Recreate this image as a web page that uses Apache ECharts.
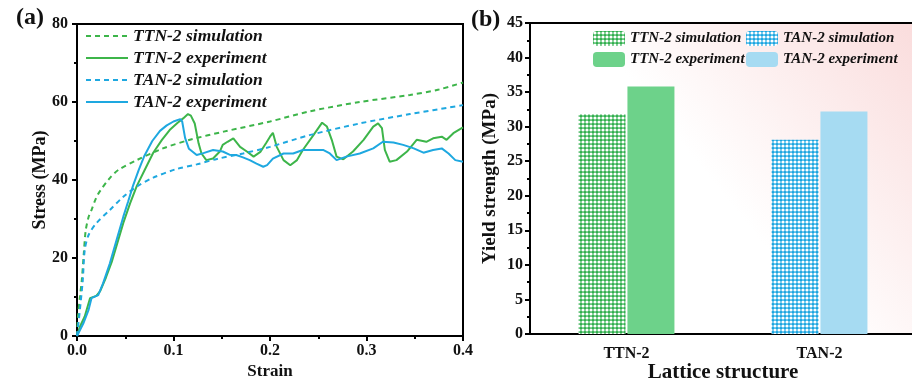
<!DOCTYPE html>
<html>
<head>
<meta charset="utf-8">
<script src="https://cdn.jsdelivr.net/npm/echarts@6/dist/echarts.min.js"></script>
<style>
  html, body { margin: 0; padding: 0; background: #fff; }
  #a { position: absolute; left: 0; top: 0; width: 480px; height: 381px; }
  #b { position: absolute; left: 465px; top: 0; width: 447px; height: 381px; }
</style>
</head>
<body>
<div id="a"></div>
<div id="b"></div>
<script>
// ---- (a) stress-strain curves ----
var ttnSimStrain = [0, 0.001, 0.003, 0.005, 0.007, 0.009, 0.012, 0.015, 0.02, 0.024, 0.034, 0.043, 0.062, 0.089, 0.117, 0.152, 0.2, 0.241, 0.293, 0.345, 0.375, 0.4];
var ttnSimStress = [0, 5, 10, 14.4, 21, 27, 30.5, 32.3, 35.5, 37.2, 40.5, 42.6, 45.1, 48.1, 50.3, 52.4, 55, 57.6, 60, 61.8, 63.2, 65];

var tanSimStrain = [0, 0.003, 0.006, 0.008, 0.012, 0.02, 0.034, 0.048, 0.062, 0.079, 0.103, 0.124, 0.145, 0.172, 0.2, 0.241, 0.293, 0.345, 0.4];
var tanSimStress = [0, 6.7, 14.4, 22, 25.9, 28.9, 32.3, 35.7, 38.3, 40.6, 42.8, 44, 45.4, 46.8, 48.5, 51.5, 54.5, 56.9, 59.2];

var ttnExpStrain = [0, 0.003, 0.008, 0.0135, 0.02, 0.024, 0.03, 0.036, 0.042, 0.048, 0.055, 0.062, 0.07, 0.079, 0.088, 0.096, 0.104, 0.11, 0.115, 0.118, 0.122, 0.126, 0.129, 0.134, 0.141, 0.148, 0.151, 0.156, 0.162, 0.169, 0.176, 0.183, 0.19, 0.196, 0.2, 0.203, 0.207, 0.214, 0.221, 0.228, 0.234, 0.245, 0.254, 0.259, 0.264, 0.269, 0.276, 0.286, 0.297, 0.307, 0.312, 0.316, 0.319, 0.324, 0.331, 0.342, 0.352, 0.362, 0.369, 0.378, 0.383, 0.39, 0.4];
var ttnExpStress = [0, 2.4, 5, 9.7, 10.3, 11.5, 15, 19, 24, 29, 34, 38.5, 42.5, 47, 50.3, 52.8, 54.6, 55.8, 56.9, 56.5, 54.5, 49.4, 46.8, 45.1, 45.5, 47.3, 49, 49.8, 50.7, 48.5, 47.3, 46, 47.2, 49.5, 51.1, 52.1, 48.5, 45.1, 43.8, 45.1, 47.7, 51.5, 54.7, 53.7, 50.3, 46, 45.3, 47.3, 50.3, 53.7, 54.5, 53.3, 47.7, 44.7, 45.1, 47.3, 50.3, 49.8, 50.7, 51.1, 50.3, 52, 53.5];

var tanExpStrain = [0, 0.0065, 0.012, 0.015, 0.022, 0.027, 0.034, 0.041, 0.048, 0.053, 0.058, 0.064, 0.07, 0.078, 0.086, 0.093, 0.1, 0.107, 0.109, 0.112, 0.116, 0.124, 0.131, 0.141, 0.151, 0.158, 0.165, 0.172, 0.179, 0.186, 0.193, 0.197, 0.203, 0.214, 0.224, 0.234, 0.245, 0.255, 0.262, 0.269, 0.279, 0.293, 0.307, 0.317, 0.328, 0.338, 0.349, 0.359, 0.369, 0.378, 0.385, 0.392, 0.4];
var tanExpStress = [0, 3.2, 6.7, 9.7, 10.5, 13.5, 18.6, 24.6, 30.6, 34.5, 38.5, 42.6, 46.3, 50, 52.6, 54, 55, 55.6, 55, 50.8, 48, 46.4, 46.9, 47.7, 47.3, 46.5, 46.4, 45.8, 45.1, 44.2, 43.4, 43.8, 45.5, 46.8, 46.8, 47.7, 47.7, 47.7, 46.8, 45.1, 46, 46.8, 48.1, 49.8, 49.6, 49, 48.1, 47, 47.7, 48.1, 46.8, 45.1, 44.7];

// ---- (b) yield strength ----
var structures = ['TTN-2', 'TAN-2'];
var ttnSim = [31.8, '-'];
var ttnExp = [35.8, '-'];
var tanSim = ['-', 28.1];
var tanExp = ['-', 32.2];

var serif = '"Liberation Serif", "Times New Roman", serif';
var GREEN = '#3db54a';
var BLUE = '#1ea8e0';

function pairs(xs, ys) {
    return xs.map(function (x, i) { return [x, ys[i]]; });
}

// 点阵填充
function dotPattern(base) {
    var c = document.createElement('canvas');
    c.width = 4; c.height = 4;
    var ctx = c.getContext('2d');
    ctx.fillStyle = base;
    ctx.fillRect(0, 0, 4, 4);
    ctx.fillStyle = '#ffffff';
    ctx.beginPath();
    ctx.arc(2, 2, 1.6, 0, Math.PI * 2);
    ctx.fill();
    return { image: c, repeat: 'repeat' };
}

var axisFont = { color: '#111', fontFamily: serif, fontWeight: 'bold', fontSize: 16 };

var chartA = echarts.init(document.getElementById('a'));
chartA.setOption({
    animation: false,
    graphic: [{
        type: 'text', left: 16, top: 6,
        style: { text: '(a)', font: 'bold 24px ' + serif, fill: '#111' }
    }],
    grid: {
        left: 77, top: 24, width: 386, bottom: 45,
        outerBoundsMode: 'none',
        show: true, borderColor: '#000', borderWidth: 2
    },
    legend: {
        orient: 'vertical', left: 85, top: 27, padding: 0,
        itemWidth: 42, itemHeight: 12, itemGap: 4,
        itemStyle: { opacity: 0 },
        textStyle: { fontFamily: serif, fontWeight: 'bold', fontStyle: 'italic', fontSize: 17.5, color: '#111' },
        data: ['TTN-2 simulation', 'TTN-2 experiment', 'TAN-2 simulation', 'TAN-2 experiment']
    },
    xAxis: {
        type: 'value', min: 0, max: 0.4, interval: 0.1,
        name: 'Strain', nameLocation: 'middle', nameGap: 27, nameMoveOverlap: false,
        nameTextStyle: { fontFamily: serif, fontWeight: 'bold', fontSize: 17, color: '#111' },
        axisLine: { lineStyle: { color: '#000', width: 2 } },
        axisTick: { length: 5, lineStyle: { width: 2 } },
        minorTick: { show: true, splitNumber: 2, length: 3, lineStyle: { color: '#000', width: 2 } },
        splitLine: { show: false },
        axisLabel: Object.assign({ margin: 7, formatter: function (v) { return v.toFixed(1); } }, axisFont)
    },
    yAxis: {
        type: 'value', min: 0, max: 80, interval: 20,
        name: 'Stress (MPa)', nameLocation: 'middle', nameGap: 28, nameMoveOverlap: false,
        nameTextStyle: { fontFamily: serif, fontWeight: 'bold', fontSize: 18, color: '#111' },
        axisLine: { show: true, lineStyle: { color: '#000', width: 2 } },
        axisTick: { show: true, length: 5, lineStyle: { width: 2 } },
        minorTick: { show: true, splitNumber: 2, length: 3, lineStyle: { color: '#000', width: 2 } },
        splitLine: { show: false },
        axisLabel: Object.assign({ margin: 9 }, axisFont)
    },
    series: [
        {
            name: 'TTN-2 simulation', type: 'line', symbol: 'none', smooth: 0.3,
            lineStyle: { color: GREEN, width: 2, type: [5, 4] }, itemStyle: { color: GREEN },
            data: pairs(ttnSimStrain, ttnSimStress)
        },
        {
            name: 'TTN-2 experiment', type: 'line', symbol: 'none',
            lineStyle: { color: GREEN, width: 2 }, itemStyle: { color: GREEN },
            data: pairs(ttnExpStrain, ttnExpStress)
        },
        {
            name: 'TAN-2 simulation', type: 'line', symbol: 'none', smooth: 0.3,
            lineStyle: { color: BLUE, width: 2, type: [5, 4] }, itemStyle: { color: BLUE },
            data: pairs(tanSimStrain, tanSimStress)
        },
        {
            name: 'TAN-2 experiment', type: 'line', symbol: 'none',
            lineStyle: { color: BLUE, width: 2 }, itemStyle: { color: BLUE },
            data: pairs(tanExpStrain, tanExpStress)
        }
    ]
});

var legendText = { fontFamily: serif, fontWeight: 'bold', fontStyle: 'italic', fontSize: 15, color: '#111' };

var chartB = echarts.init(document.getElementById('b'));
chartB.setOption({
    animation: false,
    graphic: [{
        type: 'text', left: 6, top: 8,
        style: { text: '(b)', font: 'bold 24px ' + serif, fill: '#111' }
    }],
    grid: {
        left: 65, top: 23, width: 386, bottom: 47,
        outerBoundsMode: 'none',
        show: true, borderColor: '#000', borderWidth: 2,
        backgroundColor: new echarts.graphic.LinearGradient(0, 1, 1, 0, [
            { offset: 0, color: '#ffffff' },
            { offset: 0.48, color: '#ffffff' },
            { offset: 1, color: '#fadcdc' }
        ])
    },
    legend: [
        {
            orient: 'vertical', left: 128, top: 31, padding: 0,
            itemWidth: 32, itemHeight: 15, itemGap: 6,
            textStyle: legendText,
            data: ['TTN-2 simulation', 'TTN-2 experiment']
        },
        {
            orient: 'vertical', left: 281, top: 31, padding: 0,
            itemWidth: 32, itemHeight: 15, itemGap: 6,
            textStyle: legendText,
            data: ['TAN-2 simulation', 'TAN-2 experiment']
        }
    ],
    xAxis: {
        type: 'category', data: structures,
        name: 'Lattice structure', nameLocation: 'middle', nameGap: 28, nameMoveOverlap: false,
        nameTextStyle: { fontFamily: serif, fontWeight: 'bold', fontSize: 21, color: '#111' },
        axisLine: { lineStyle: { color: '#000', width: 2 } },
        axisTick: { alignWithLabel: true, length: 5, lineStyle: { width: 2 } },
        axisLabel: Object.assign({ margin: 12 }, axisFont)
    },
    yAxis: {
        type: 'value', min: 0, max: 45, interval: 5,
        name: 'Yield strength (MPa)', nameLocation: 'middle', nameGap: 30, nameMoveOverlap: false,
        nameTextStyle: { fontFamily: serif, fontWeight: 'bold', fontSize: 19, color: '#111' },
        axisLine: { show: true, lineStyle: { color: '#000', width: 2 } },
        axisTick: { show: true, length: 5, lineStyle: { width: 2 } },
        minorTick: { show: true, splitNumber: 2, length: 3, lineStyle: { color: '#000', width: 2 } },
        splitLine: { show: false },
        axisLabel: Object.assign({ margin: 7 }, axisFont)
    },
    series: [
        {
            name: 'TTN-2 simulation', type: 'bar', stack: 'sim', barWidth: 47, barGap: '4%',
            itemStyle: { color: dotPattern('#2fae4c') },
            data: ttnSim
        },
        {
            name: 'TTN-2 experiment', type: 'bar', stack: 'exp', barWidth: 47, barGap: '4%',
            itemStyle: { color: '#6dd28a' },
            data: ttnExp
        },
        {
            name: 'TAN-2 simulation', type: 'bar', stack: 'sim', barWidth: 47, barGap: '4%',
            itemStyle: { color: dotPattern('#1aa5e0') },
            data: tanSim
        },
        {
            name: 'TAN-2 experiment', type: 'bar', stack: 'exp', barWidth: 47, barGap: '4%',
            itemStyle: { color: '#a6dbf2' },
            data: tanExp
        }
    ]
});
</script>
</body>
</html>
